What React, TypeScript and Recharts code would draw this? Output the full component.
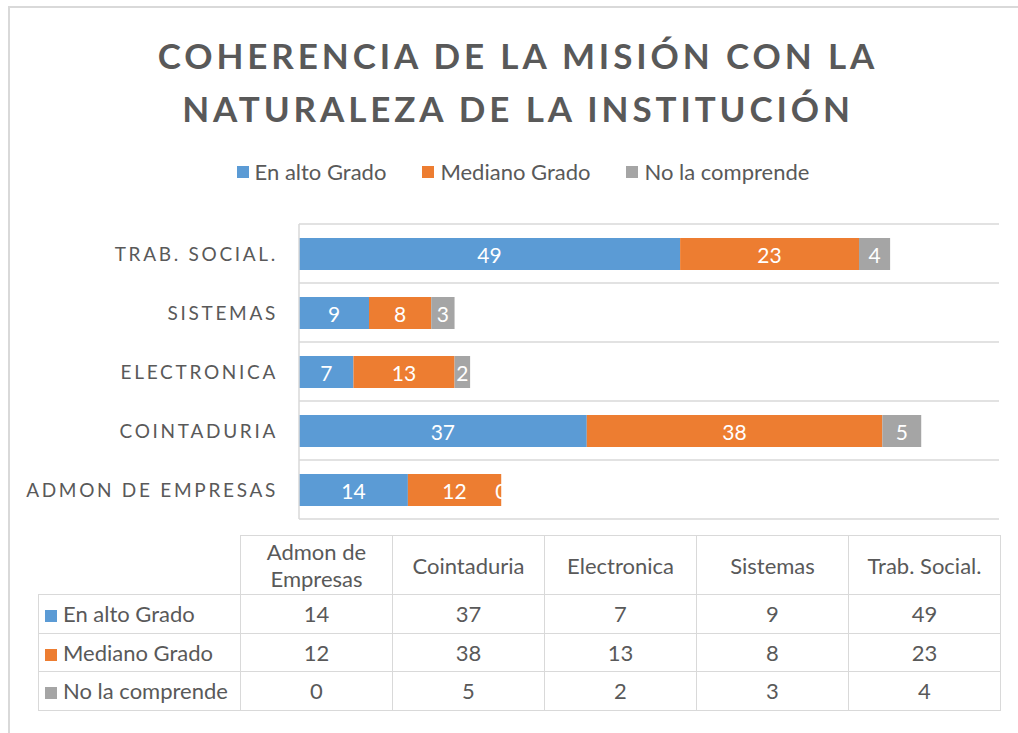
import { BarChart, Bar, XAxis, YAxis, CartesianGrid, LabelList } from 'recharts';

const categories = ['Admon de Empresas', 'Cointaduria', 'Electronica', 'Sistemas', 'Trab. Social.'];
const seriesNames = ['En alto Grado', 'Mediano Grado', 'No la comprende'];
const enAltoGrado = [14, 37, 7, 9, 49];
const medianoGrado = [12, 38, 13, 8, 23];
const noLaComprende = [0, 5, 2, 3, 4];
const colors = ['#5B9BD5', '#ED7D31', '#A5A5A5'];
const xMax = 90;

const FONT = 'Lato, "Open Sans", sans-serif';
const TEXT = '#595959';
const LINE = '#d9d9d9';

const seriesValues = [enAltoGrado, medianoGrado, noLaComprende];
const keys = ['alto', 'mediano', 'no'];

const rows = categories.map((name, i) => ({
  name,
  alto: enAltoGrado[i],
  mediano: medianoGrado[i],
  no: noLaComprende[i],
}));

const CategoryTick = ({ x, y, payload }: any) => (
  <text
    x={x}
    y={y}
    dx={-13}
    textAnchor="end"
    dominantBaseline="central"
    fill={TEXT}
    fontSize={19}
    fontFamily={FONT}
    letterSpacing={2.7}
  >
    {String(payload.value).toUpperCase()}
  </text>
);

const ValueLabel = ({ x, y, width, height, value }: any) => (
  <text
    x={Number(x) + Number(width) / 2}
    y={Number(y) + Number(height) / 2}
    textAnchor="middle"
    dominantBaseline="central"
    fill="#fff"
    fontSize={21}
    fontFamily={FONT}
  >
    {value}
  </text>
);

// recharts skips zero-width segments, Excel still prints the "0" at the end of the stack
const ZeroLabel = ({ x, y, width, height, index }: any) =>
  noLaComprende[index] === 0 ? (
    <text
      x={Number(x) + Number(width)}
      y={Number(y) + Number(height) / 2}
      textAnchor="middle"
      dominantBaseline="central"
      fill="#fff"
      fontSize={21}
      fontFamily={FONT}
    >
      {noLaComprende[index]}
    </text>
  ) : null;

// grid lines sit between the categories, like Excel
const bandLines = ({ offset }: any) =>
  Array.from({ length: categories.length + 1 }, (_, i) => offset.top + (offset.height * i) / categories.length);

const Swatch = ({ color }: { color: string }) => (
  <span style={{ display: 'inline-block', width: 12, height: 12, background: color, marginRight: 6 }} />
);

const cell: React.CSSProperties = {
  border: `1.5px solid ${LINE}`,
  textAlign: 'center',
  padding: 0,
  fontSize: 22,
  color: TEXT,
};

export default function App() {
  return (
    <div style={{ position: 'absolute', left: 0, top: 0, width: 1018, height: 733, overflow: 'hidden', background: '#fff', fontFamily: FONT }}>
      <div style={{ position: 'absolute', left: 8, top: 6, width: 1030, height: 760, border: `2px solid ${LINE}`, boxSizing: 'border-box' }} />

      <div
        style={{
          position: 'absolute', left: 8, top: 29, width: 1020, textAlign: 'center',
          fontSize: 35, fontWeight: 700, letterSpacing: 3.9, lineHeight: '53px', color: TEXT,
        }}
      >
        COHERENCIA DE LA MISIÓN CON LA<br />NATURALEZA DE LA INSTITUCIÓN
      </div>

      <div
        style={{
          position: 'absolute', left: 8, top: 159, width: 1030, display: 'flex', justifyContent: 'center',
          alignItems: 'center', gap: 36, fontSize: 22, color: TEXT, lineHeight: '26px',
        }}
      >
        {seriesNames.map((s, i) => (
          <span key={s} style={{ display: 'inline-flex', alignItems: 'center' }}>
            <Swatch color={colors[i]} />
            {s}
          </span>
        ))}
      </div>

      <div style={{ position: 'absolute', left: 0, top: 0 }}>
        <BarChart
          width={1018}
          height={530}
          data={rows}
          layout="vertical"
          margin={{ top: 224, right: 19, left: 0, bottom: 11 }}
          barSize={32}
        >
          <CartesianGrid vertical={false} stroke={LINE} strokeWidth={1.5} horizontalCoordinatesGenerator={bandLines} />
          <XAxis type="number" domain={[0, xMax]} hide />
          <YAxis
            type="category"
            dataKey="name"
            reversed
            width={299}
            axisLine={{ stroke: LINE, strokeWidth: 1.5 }}
            tickLine={false}
            tick={<CategoryTick />}
            interval={0}
          />
          {keys.map((k, i) => (
            <Bar key={k} dataKey={k} name={seriesNames[i]} stackId="a" fill={colors[i]} isAnimationActive={false}>
              <LabelList dataKey={k} content={<ValueLabel />} />
              {k === 'mediano' && <LabelList dataKey={k} content={<ZeroLabel />} />}
            </Bar>
          ))}
        </BarChart>
      </div>

      <table
        style={{
          position: 'absolute', left: 38, top: 535, borderCollapse: 'collapse', tableLayout: 'fixed',
          fontFamily: FONT,
        }}
      >
        <colgroup>
          <col style={{ width: 202 }} />
          {categories.map(c => <col key={c} style={{ width: 152 }} />)}
        </colgroup>
        <tbody>
          <tr style={{ height: 59 }}>
            <td style={{ border: 'none' }} />
            {categories.map(c => (
              <td key={c} style={{ ...cell, padding: '0 16px', lineHeight: '27px' }}>{c}</td>
            ))}
          </tr>
          {seriesNames.map((s, si) => (
            <tr key={s} style={{ height: 38.5 }}>
              <td style={{ ...cell, textAlign: 'left', paddingLeft: 6, whiteSpace: 'nowrap' }}>
                <Swatch color={colors[si]} />
                {s}
              </td>
              {seriesValues[si].map((v, ci) => (
                <td key={ci} style={cell}>{v}</td>
              ))}
            </tr>
          ))}
        </tbody>
      </table>
    </div>
  );
}
